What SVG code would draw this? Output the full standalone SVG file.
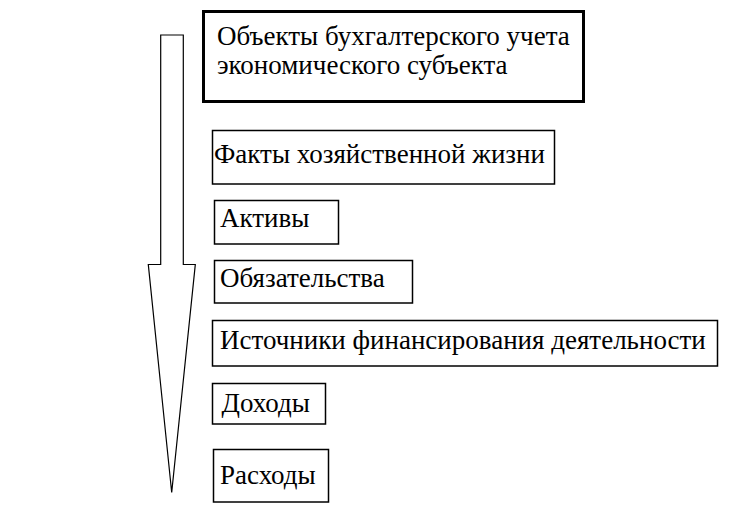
<svg xmlns="http://www.w3.org/2000/svg" width="734" height="518" viewBox="0 0 734 518">
<style>
.box { fill: #fff; stroke: #000; stroke-width: 1.5; }
text { font-family: 'Liberation Serif', 'Times New Roman', serif; font-size: 27px; fill: #000; }
</style>
<rect width="734" height="518" fill="#fff"/>
<g id="connectors">
<polygon points="160.7,35 183.3,35 183.3,264.5 195.3,264.5 171.7,492.5 148.3,264.5 160.7,264.5" fill="#fff" stroke="#000" stroke-width="1.2"/>
</g>
<g id="n0">
<rect x="203.5" y="11.5" width="380" height="90" fill="#fff" stroke="#000" stroke-width="3"/>
<text x="217" y="45">Объекты бухгалтерского учета</text>
<text x="217" y="74">экономического субъекта</text>
</g>
<g id="n1"><rect class="box" x="212.5" y="130.5" width="342" height="53.5"/><text x="214" y="163">Факты хозяйственной жизни</text></g>
<g id="n2"><rect class="box" x="214.5" y="200.5" width="124" height="43.5"/><text x="220" y="227">Активы</text></g>
<g id="n3"><rect class="box" x="214.5" y="260.5" width="198" height="42.5"/><text x="220" y="287">Обязательства</text></g>
<g id="n4"><rect class="box" x="212.5" y="320.5" width="505" height="45.5"/><text x="220" y="349">Источники финансирования деятельности</text></g>
<g id="n5"><rect class="box" x="212.5" y="383.5" width="113" height="40.5"/><text x="221.5" y="412">Доходы</text></g>
<g id="n6"><rect class="box" x="213.5" y="449.5" width="115" height="52.5"/><text x="220" y="484">Расходы</text></g>
</svg>
